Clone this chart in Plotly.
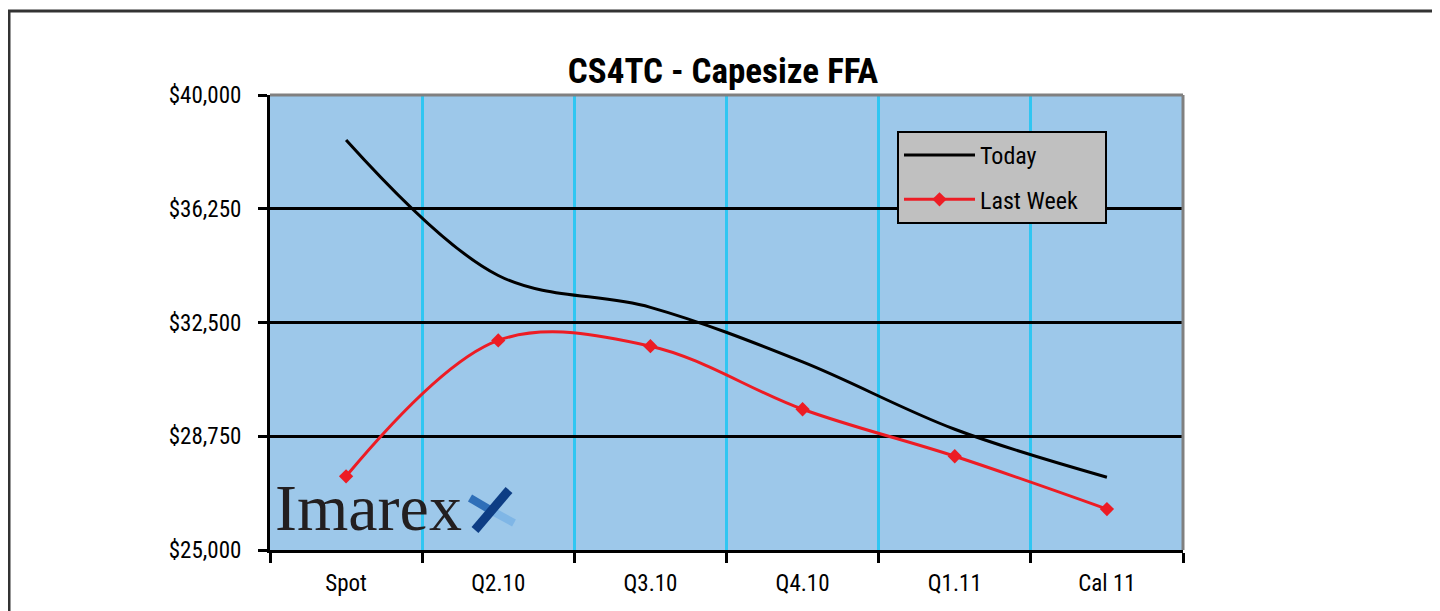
import plotly.graph_objects as go

categories = ["Spot", "Q2.10", "Q3.10", "Q4.10", "Q1.11", "Cal 11"]
today = [38520, 34050, 33000, 31200, 28980, 27400]
last_week = [27430, 31910, 31720, 29640, 28090, 26350]
y_ticks = [25000, 28750, 32500, 36250, 40000]

W, H = 1440, 611
OFF = 8  # page body margin offset
L, R, T, B = 270, 1183, 95, 550

def px(x):
    return (x - L) / (R - L)

def py(y):
    return (B - y) / (B - T)

FONT = "Roboto Condensed, Liberation Sans Narrow, Roboto, sans-serif"
PAD = "\u00a0" * 4  # pads legend box to the reference width

fig = go.Figure()
fig.add_trace(go.Scatter(
    x=categories, y=today, name="Today", mode="lines",
    line=dict(color="#000000", width=3, shape="spline", smoothing=1.0),
    legendgroup="a",
))
fig.add_trace(go.Scatter(
    x=categories, y=last_week, name="Last Week" + PAD, mode="lines+markers",
    line=dict(color="#ed1c24", width=3, shape="spline", smoothing=1.0),
    marker=dict(symbol="diamond", size=11, color="#ed1c24"),
    legendgroup="b",
))

shapes = [
    dict(type="line", xref="paper", yref="paper", x0=0, x1=1, y0=1, y1=1,
         line=dict(color="#808080", width=3), layer="above"),
    dict(type="line", xref="paper", yref="paper", x0=1, x1=1, y0=0, y1=1,
         line=dict(color="#808080", width=3), layer="above"),
    dict(type="rect", xref="paper", yref="paper", x0=px(9), x1=px(1480),
         y0=py(680), y1=py(11), line=dict(color="#333333", width=3),
         fillcolor="rgba(0,0,0,0)", layer="above"),
    # logo icon
    dict(type="line", xref="paper", yref="paper", x0=px(470), y0=py(498),
         x1=px(492), y1=py(511), line=dict(color="#2f6fb8", width=8), layer="above"),
    dict(type="line", xref="paper", yref="paper", x0=px(492), y0=py(511),
         x1=px(514), y1=py(523), line=dict(color="#7fb6e6", width=8), layer="above"),
    dict(type="line", xref="paper", yref="paper", x0=px(509), y0=py(490),
         x1=px(475), y1=py(530), line=dict(color="#0d3d84", width=9), layer="above"),
]

annotations = [
    dict(text="Imarex", xref="paper", yref="paper", x=px(273), y=py(546),
         xanchor="left", yanchor="bottom", showarrow=False,
         font=dict(family="Liberation Serif, DejaVu Serif, serif", size=66, color="#231f20")),
]

fig.update_layout(
    width=W, height=H,
    margin=dict(l=L - OFF, r=W - (L - OFF) - (R - L), t=T - OFF, b=H - (T - OFF) - (B - T)),
    paper_bgcolor="#ffffff",
    plot_bgcolor="#9dc8ea",
    title=dict(text="<b>CS4TC - Capesize FFA</b>", x=(723 - OFF) / W, xanchor="center",
               y=1 - (71 - OFF) / H, yanchor="middle",
               font=dict(family=FONT, size=35, color="#000000")),
    font=dict(family=FONT, size=22, color="#000000"),
    showlegend=True,
    legend=dict(x=px(897), y=py(131), xanchor="left", yanchor="top",
                bgcolor="#c0c0c0", bordercolor="#000000", borderwidth=2,
                font=dict(family=FONT, size=24, color="#000000"),
                tracegroupgap=10, itemwidth=71),
    xaxis=dict(
        type="category", tickson="boundaries",
        range=[-0.5, 5.5],
        showgrid=True, gridcolor="#2fc6f2", gridwidth=3,
        showline=True, linecolor="#000000", linewidth=3,
        ticks="outside", ticklen=10, tickwidth=3, tickcolor="#000000",
        tickfont=dict(family=FONT, size=23),
        ticklabelstandoff=10,
        fixedrange=True,
    ),
    yaxis=dict(
        range=[25000, 40000], tickvals=y_ticks, tickformat="$,.0f",
        showgrid=True, gridcolor="#000000", gridwidth=3,
        zeroline=False,
        showline=True, linecolor="#000000", linewidth=3,
        ticks="outside", ticklen=9, tickwidth=3, tickcolor="#000000",
        tickfont=dict(family=FONT, size=23),
        ticklabelstandoff=12,
        fixedrange=True,
    ),
    shapes=shapes,
    annotations=annotations,
)

fig.write_html("out.html")
